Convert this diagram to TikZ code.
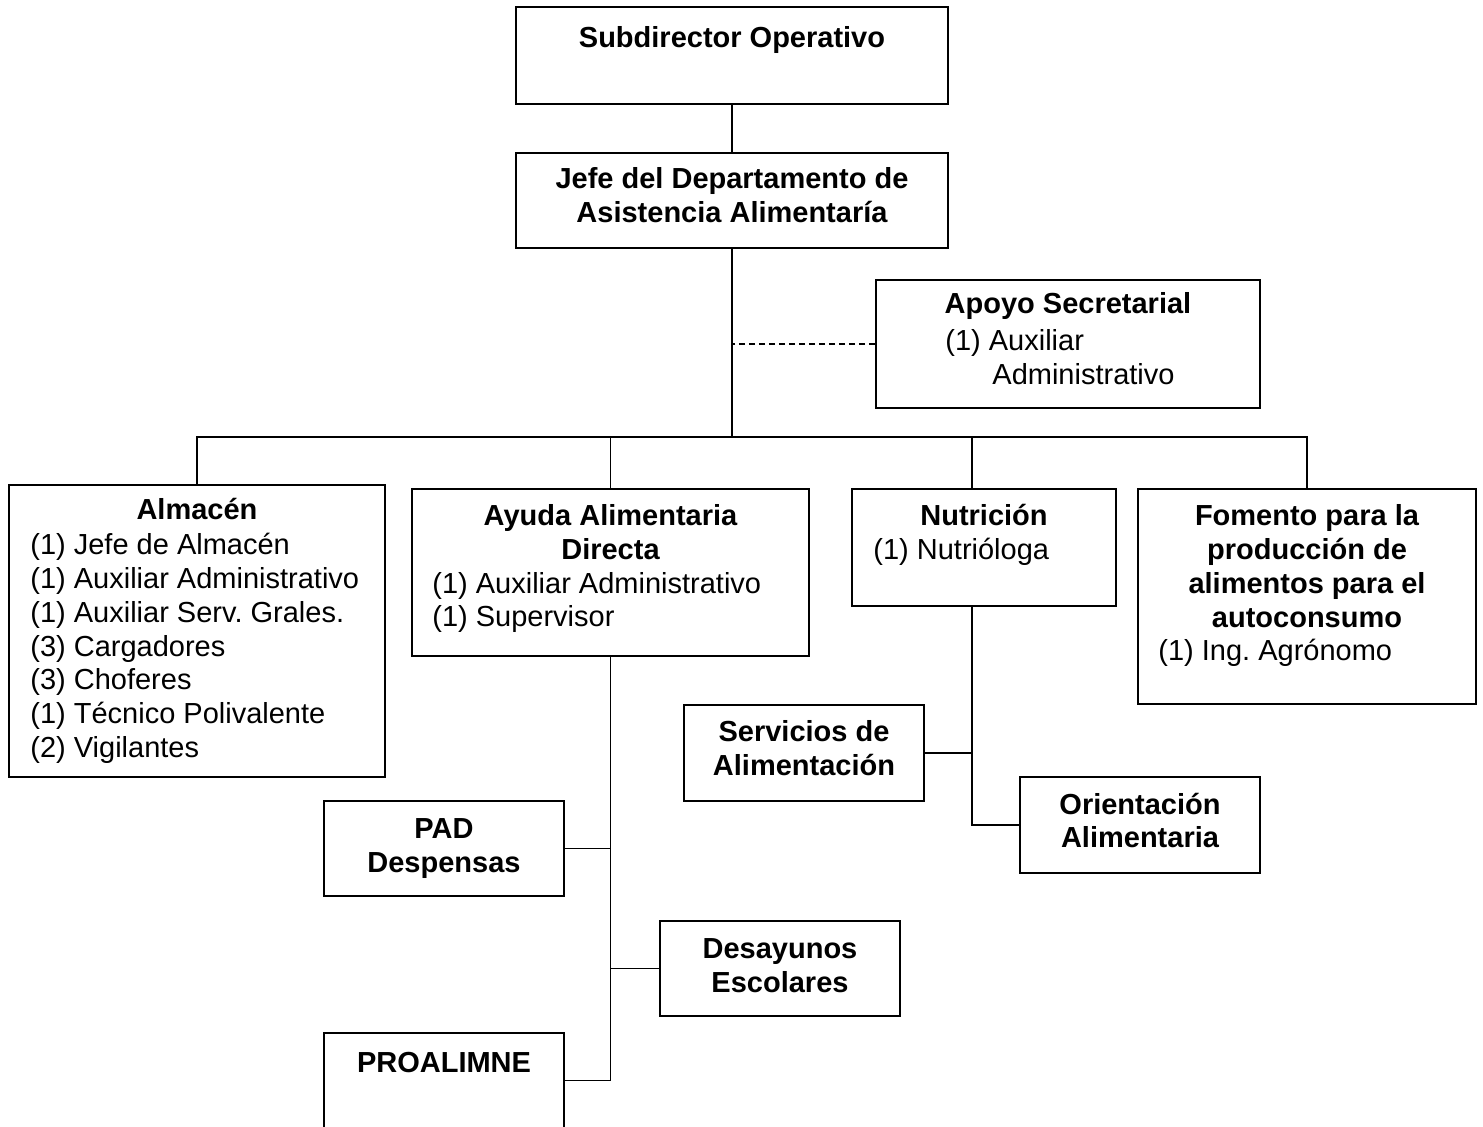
\documentclass[tikz,border=0pt]{standalone}
\usepackage{fontspec}
\setmainfont{Liberation Sans}
\frenchspacing
\usetikzlibrary{fit}

\tikzset{
  box/.style={draw, line width=0.9pt, inner sep=0pt},
  ttl/.style={font=\fontsize{14.5}{17}\selectfont\bfseries, anchor=base, inner sep=0pt},
  itm/.style={font=\fontsize{14.5}{17}\selectfont, anchor=base west, inner sep=0pt},
  link/.style={line width=0.85pt},
}

\begin{document}
\begin{tikzpicture}[x=0.5pt, y=-0.5pt]
  \useasboundingbox (0,0) rectangle (1483,1127);

  % ---- boxes (pixel grid, y down) ----
  \node[box, fit={(516,7) (948,104)}] (sub) {};
  \node[box, fit={(516,153) (948,248)}] (jefe) {};
  \node[box, fit={(876,280) (1260,408)}] (apoyo) {};
  \node[box, fit={(9,485) (385,777)}] (alm) {};
  \node[box, fit={(412,489) (809,656)}] (ayuda) {};
  \node[box, fit={(852,489) (1116,606)}] (nutri) {};
  \node[box, fit={(1138,489) (1476,704)}] (fom) {};
  \node[box, fit={(684,705) (924,801)}] (serv) {};
  \node[box, fit={(1020,777) (1260,873)}] (orient) {};
  \node[box, fit={(324,801) (564,896)}] (pad) {};
  \node[box, fit={(660,921) (900,1016)}] (desay) {};
  \node[box, fit={(324,1033) (564,1128)}] (proal) {};

  % ---- texts ----
  \node[ttl] (sub-t) at (732,48) {Subdirector Operativo};
  \node[ttl] (jefe-t1) at (732,189) {Jefe del Departamento de};
  \node[ttl] (jefe-t2) at (732,223) {Asistencia Alimentaría};
  \node[ttl] (apoyo-t) at (1068,314) {Apoyo Secretarial};
  \node[itm] (apoyo-1) at (945,351) {(1) Auxiliar};
  \node[itm] (apoyo-2) at (992,385) {Administrativo};

  \node[ttl] (alm-t) at (197,520) {Almacén};
  \foreach \n/\t [count=\i] in {1/Jefe de Almacén, 1/Auxiliar Administrativo,
      1/Auxiliar Serv. Grales., 3/Cargadores, 3/Choferes,
      1/Técnico Polivalente, 2/Vigilantes}
    \node[itm] (alm-\i) at (30, {555+33.7*(\i-1)}) {(\n) \t};

  \node[ttl] (ayuda-t1) at (610.5,526) {Ayuda Alimentaria};
  \node[ttl] (ayuda-t2) at (610.5,559.7) {Directa};
  \node[itm] (ayuda-1) at (432,593.4) {(1) Auxiliar Administrativo};
  \node[itm] (ayuda-2) at (432,627) {(1) Supervisor};

  \node[ttl] (nutri-t) at (984,526) {Nutrición};
  \node[itm] (nutri-1) at (873,560) {(1) Nutrióloga};

  \foreach \t [count=\i] in {Fomento para la, producción de,
      alimentos para el, autoconsumo}
    \node[ttl] (fom-t\i) at (1307, {526+33.7*(\i-1)}) {\t};
  \node[itm] (fom-1) at (1158,661) {(1) Ing. Agrónomo};

  \node[ttl] (serv-t1) at (804,742) {Servicios de};
  \node[ttl] (serv-t2) at (804,776) {Alimentación};
  \node[ttl] (orient-t1) at (1140,814) {Orientación};
  \node[ttl] (orient-t2) at (1140,848) {Alimentaria};
  \node[ttl] (pad-t1) at (444,838) {PAD};
  \node[ttl] (pad-t2) at (444,872) {Despensas};
  \node[ttl] (desay-t1) at (780,958) {Desayunos};
  \node[ttl] (desay-t2) at (780,992) {Escolares};
  \node[ttl] (proal-t) at (444,1072) {PROALIMNE};

  % ---- connectors ----
  \coordinate (bus) at (732,437);
  \coordinate (nutri-in) at (972,489);
  \coordinate (nutri-out) at (972,606);
  \draw[link] (sub.south) -- (jefe.north);
  \draw[link] (jefe.south) -- (bus);
  \draw[link] (alm.north) |- (bus) -| (fom.north);
  \draw[link] (ayuda.north) -- (ayuda.north |- bus);
  \draw[link] (nutri-in) -- (nutri-in |- bus);
  \draw[link, dash pattern=on 3pt off 2pt] (apoyo.west) -- (apoyo.west -| bus);

  \draw[link] (ayuda.south) -- (proal.east -| ayuda.south);
  \draw[link] (pad.east) -- (pad.east -| ayuda.south);
  \draw[link] (desay.west) -- (desay.west -| ayuda.south);
  \draw[link] (proal.east) -- (proal.east -| ayuda.south);

  \draw[link] (nutri-out) |- (orient.west);
  \draw[link] (serv.east) -- (serv.east -| nutri-out);
\end{tikzpicture}
\end{document}
